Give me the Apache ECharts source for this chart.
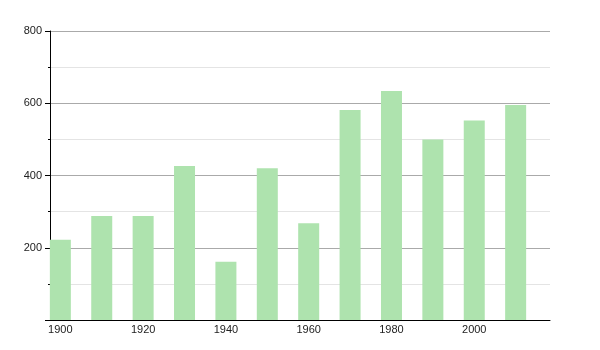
<!DOCTYPE html>
<html><head><meta charset="utf-8">
<script src="https://cdn.jsdelivr.net/npm/echarts@6/dist/echarts.min.js"></script>
<style>html,body{margin:0;padding:0;background:#fff}#c{width:600px;height:350px}</style>
</head><body><div id="c"></div>
<script>
const years = [1900,1910,1920,1930,1940,1950,1960,1970,1980,1990,2000,2010];
const values = [222,288,288,426,161,420,268,581,634,500,552,595];
const xTickLabels = [1900,1920,1940,1960,1980,2000];
const yTickLabels = [200,400,600,800];

const chart = echarts.init(document.getElementById('c'), null, {renderer:'canvas'});
chart.setOption({
  animation:false,
  grid:{left:50,right:50,top:31,bottom:30,containLabel:false},
  xAxis:{
    type:'value', min:1897.5, max:2018.3,
    axisLine:{show:true,lineStyle:{color:'#000',width:1}},
    axisTick:{show:false},
    splitLine:{show:false},
    axisLabel:{customValues:xTickLabels,color:'#222',fontSize:11,fontFamily:'Liberation Sans, Arial, sans-serif',margin:4,formatter:v=>String(v)}
  },
  yAxis:{
    type:'value', min:0, max:800, interval:200,
    axisLine:{show:true,lineStyle:{color:'#000',width:1}},
    axisTick:{show:true,length:5,lineStyle:{color:'#000'}},
    minorTick:{show:true,splitNumber:2,length:2,lineStyle:{color:'#000'}},
    splitLine:{show:true,lineStyle:{color:'#aaaaaa',width:1}},
    minorSplitLine:{show:true,lineStyle:{color:'#e4e4e4',width:1}},
    axisLabel:{color:'#222',fontSize:11,fontFamily:'Liberation Sans, Arial, sans-serif',margin:8,
      formatter:v=>yTickLabels.includes(v)?String(v):''}
  },
  series:[{
    type:'bar',
    data:years.map((y,i)=>[y,values[i]]),
    barWidth:21,
    itemStyle:{color:'#aee3ae'}
  }]
});
</script></body></html>
